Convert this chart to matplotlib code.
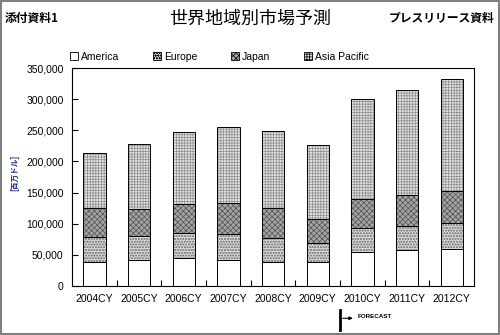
import matplotlib
matplotlib.use("Agg")
import matplotlib.pyplot as plt
from matplotlib.patches import Rectangle, Patch
from matplotlib.ticker import FuncFormatter
import matplotlib.transforms as mtransforms
import numpy as np

plt.rcParams['font.family'] = ['Liberation Sans', 'Noto Sans CJK JP', 'DejaVu Sans']
plt.rcParams['hatch.linewidth'] = 0.5

# data (million USD)
years = ['2004CY', '2005CY', '2006CY', '2007CY', '2008CY', '2009CY', '2010CY', '2011CY', '2012CY']
america = [39000, 41000, 45000, 42000, 38000, 38000, 54000, 58000, 60000]
europe = [39000, 39000, 40000, 41000, 39000, 31000, 39000, 38000, 41000]
japan = [47000, 44000, 47000, 50000, 48000, 38000, 47000, 50000, 51000]
asia_pacific = [88000, 104000, 116000, 123000, 124000, 119000, 160000, 168000, 180000]

series = [
    ('America', america, 'white', None, 'white'),
    ('Europe', europe, '#d8d8d8', 'oooooo', '#8a8a8a'),
    ('Japan', japan, '#a4a4a4', 'xxxxxx', '#505050'),
    ('Asia Pacific', asia_pacific, '#e2e2e2', '++++++', '#8c8c8c'),
]

fig = plt.figure(figsize=(5, 3.35), dpi=100)
ax = fig.add_axes([0.144, 0.1463, 0.804, 0.6507])

x = np.arange(len(years))
bottom = np.zeros(len(years))
handles = []
for name, vals, fc, hatch, hc in series:
    ax.bar(x, vals, width=0.5, bottom=bottom, color=fc, hatch=hatch,
           edgecolor=hc, linewidth=0, zorder=2)
    ax.bar(x, vals, width=0.5, bottom=bottom, fill=False,
           edgecolor='black', linewidth=0.7, zorder=3)
    handles.append(Patch(facecolor=fc, hatch=hatch, edgecolor='black', linewidth=0.6, label=name))
    bottom += np.array(vals)

ax.set_xlim(-0.5, len(years) - 0.5)
ax.set_ylim(0, 350000)
ax.set_yticks(np.arange(0, 350001, 50000))
ax.yaxis.set_major_formatter(FuncFormatter(lambda v, p: f'{int(v):,}'))
ax.set_xticks(x)
ax.set_xticklabels(years)
ax.set_xticks(np.arange(0.5, len(years) - 1, 1), minor=True)
ax.tick_params(axis='x', which='major', length=0, labelsize=7.5, pad=6)
ax.tick_params(axis='x', which='minor', direction='in', length=4, width=0.8)
ax.tick_params(axis='y', direction='in', length=4, width=0.8, labelsize=7.5, pad=6)
for s in ax.spines.values():
    s.set_linewidth(0.8)

ax.set_ylabel('[百万ドル]', fontsize=5.5, fontweight='bold', color='#1a2a80',
              family=['Noto Sans CJK JP', 'DejaVu Sans'])
ax.yaxis.set_label_coords(-0.13, 0.52)

ax.legend(handles=handles, loc='lower left', bbox_to_anchor=(-0.02, 1.0), ncol=4,
          frameon=False, fontsize=7.5, handlelength=0.7, handleheight=0.7,
          handletextpad=0.3, columnspacing=3.3, borderaxespad=0.2)

fig.text(0.5, 0.945, '世界地域別市場予測', ha='center', va='center', fontsize=13,
         family=['Noto Sans CJK JP', 'DejaVu Sans'])
fig.text(0.01, 0.945, '添付資料1', ha='left', va='center', fontsize=8.5, fontweight='bold',
         family=['Noto Sans CJK JP', 'DejaVu Sans'])
fig.text(0.99, 0.945, 'プレスリリース資料', ha='right', va='center', fontsize=8.5, fontweight='bold',
         family=['Noto Sans CJK JP', 'DejaVu Sans'])

# forecast marker below the axis, between 2009 and 2010
trans = mtransforms.blended_transform_factory(ax.transData, fig.transFigure)
ax.plot([5.5, 5.5], [0.015, 0.075], transform=trans, color='black', lw=2, clip_on=False)
ax.annotate('', xy=(5.85, 0.05), xytext=(5.5, 0.05), xycoords=trans, textcoords=trans,
            arrowprops=dict(arrowstyle='-|>', color='black', lw=0.8, mutation_scale=5))
ax.text(5.9, 0.055, 'FORECAST', transform=trans, fontsize=4.5, fontweight='bold',
        ha='left', va='center')

fig.add_artist(Rectangle((0.002, 0.003), 0.996, 0.994, transform=fig.transFigure,
                         fill=False, edgecolor='#808080', linewidth=1.5))

fig.savefig('out.png', dpi=100)
